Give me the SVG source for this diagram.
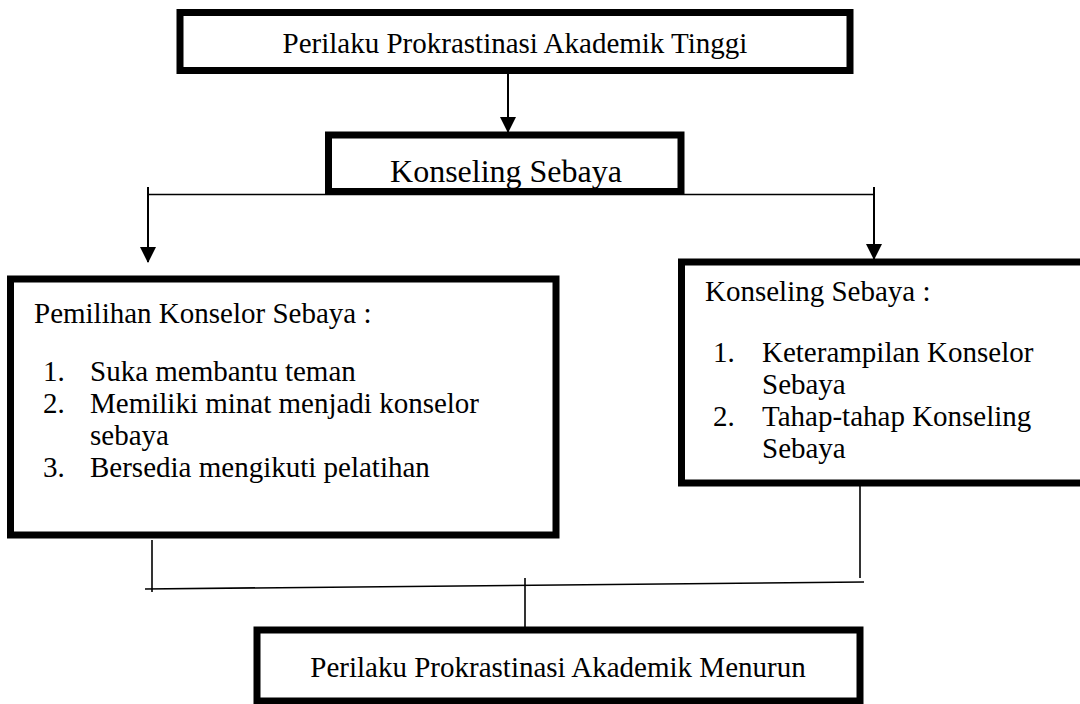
<svg xmlns="http://www.w3.org/2000/svg" width="1080" height="704" viewBox="0 0 1080 704">
<style>
.box{fill:#fff;stroke:#000;stroke-width:7}
.frame{fill:none;stroke:#000;stroke-width:7}
.t{font-family:"Liberation Serif","Times New Roman",serif;font-size:29px;fill:#000}
.c{stroke:#000;stroke-width:1.6;fill:none}
.a{stroke:#000;stroke-width:2;fill:none}
</style>
<defs>
<marker id="ah" markerUnits="userSpaceOnUse" markerWidth="16" markerHeight="16" viewBox="0 0 16 16" refX="15" refY="8" orient="auto">
<path d="M0,0 L16,8 L0,16 Z" fill="#000"/>
</marker>
</defs>
<rect width="1080" height="704" fill="#fff"/>
<g id="connectors">
<line class="a" x1="508" y1="74" x2="508" y2="132" marker-end="url(#ah)"/>
<line class="c" x1="148" y1="194.5" x2="874" y2="194.5"/>
<line class="a" x1="148" y1="187" x2="148" y2="262" marker-end="url(#ah)"/>
<line class="a" x1="874" y1="187" x2="874" y2="259" marker-end="url(#ah)"/>
<line class="c" x1="152" y1="540" x2="152" y2="592"/>
<line class="c" x1="860" y1="486" x2="860" y2="578"/>
<line class="c" x1="145" y1="589" x2="864" y2="582"/>
<line class="c" x1="525" y1="578" x2="525" y2="628"/>
</g>
<g id="node-top">
<rect class="box" x="180" y="12.5" width="670" height="58"/>
<text class="t" x="515" y="53" text-anchor="middle">Perilaku Prokrastinasi Akademik Tinggi</text>
</g>
<g id="node-konseling">
<rect fill="#fff" x="328" y="135" width="353" height="57"/>
<text class="t" style="font-size:32px" x="506" y="182" text-anchor="middle">Konseling Sebaya</text>
<rect class="frame" x="328.5" y="135" width="352.5" height="56.5"/>
</g>
<g id="node-pemilihan">
<rect class="box" x="10.5" y="279" width="545.5" height="256"/>
<text class="t" x="34" y="323">Pemilihan Konselor Sebaya :</text>
<text class="t" x="43" y="381">1.</text>
<text class="t" x="90" y="381">Suka membantu teman</text>
<text class="t" x="43" y="413">2.</text>
<text class="t" x="90" y="413">Memiliki minat menjadi konselor</text>
<text class="t" x="90" y="445">sebaya</text>
<text class="t" x="43" y="477">3.</text>
<text class="t" x="90" y="477">Bersedia mengikuti pelatihan</text>
</g>
<g id="node-konseling-detail">
<rect class="box" x="681.5" y="262" width="410" height="221"/>
<text class="t" x="705" y="301">Konseling Sebaya :</text>
<text class="t" x="713" y="362">1.</text>
<text class="t" x="762" y="362">Keterampilan Konselor</text>
<text class="t" x="762" y="394">Sebaya</text>
<text class="t" x="713" y="426">2.</text>
<text class="t" x="762" y="426">Tahap-tahap Konseling</text>
<text class="t" x="762" y="458">Sebaya</text>
</g>
<g id="node-bottom">
<rect class="box" x="257" y="630" width="603" height="71"/>
<text class="t" x="558" y="677" text-anchor="middle">Perilaku Prokrastinasi Akademik Menurun</text>
</g>
</svg>
